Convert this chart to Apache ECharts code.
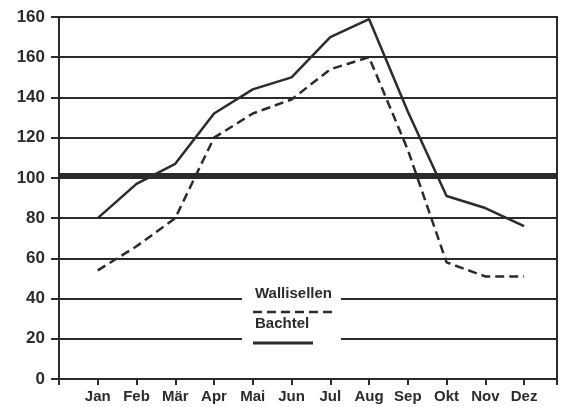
<!DOCTYPE html>
<html>
<head>
<meta charset="utf-8">
<script src="https://cdn.jsdelivr.net/npm/echarts@6/dist/echarts.min.js"></script>
<style>
  html, body { margin: 0; padding: 0; background: #fff; }
  #chart { width: 562px; height: 407px; }
</style>
</head>
<body>
<div id="chart"></div>
<script>
// month labels on the x axis (positions 1..12)
const months = ['Jan', 'Feb', 'Mär', 'Apr', 'Mai', 'Jun', 'Jul', 'Aug', 'Sep', 'Okt', 'Nov', 'Dez'];

// values
const bachtel = [80, 97, 107, 132, 144, 150, 170, 179, 133, 91, 85, 76];
const wallisellen = [54, 66, 80, 120, 132, 139, 154, 160, 114, 58, 51, 51];

// y tick labels as printed (top one reads 160 in the original)
const yTickValues = [0, 20, 40, 60, 80, 100, 120, 140, 160, 180];
const yTickLabels = ['0', '20', '40', '60', '80', '100', '120', '140', '160', '160'];

const refLevel = 101;

const ink = '#2b2b2b';
const font = '"Liberation Sans", Arial, sans-serif';

const toPoints = (arr) => arr.map((v, i) => [i + 1, v]);

const chart = echarts.init(document.getElementById('chart'));

const option = {
  animation: false,
  grid: {
    left: 59,
    right: 5,
    top: 17,
    bottom: 28,
    show: true,
    borderColor: ink,
    borderWidth: 2
  },
  xAxis: {
    type: 'value',
    min: 0,
    max: 12.85,
    interval: 1,
    axisLine: { show: true, lineStyle: { color: ink, width: 2 } },
    axisTick: { show: true, length: 6, lineStyle: { color: ink, width: 2 } },
    splitLine: { show: false },
    axisLabel: {
      margin: 10,
      color: ink,
      fontFamily: font,
      fontWeight: 'bold',
      fontSize: 15,
      formatter: (v) => (Number.isInteger(v) && v >= 1 && v <= 12) ? months[v - 1] : ''
    }
  },
  yAxis: {
    type: 'value',
    min: 0,
    max: 180,
    interval: 20,
    axisLine: { show: true, lineStyle: { color: ink, width: 2 } },
    axisTick: { show: true, length: 8, lineStyle: { color: ink, width: 2 } },
    splitLine: { show: true, lineStyle: { color: ink, width: 2 } },
    axisLabel: {
      margin: 14,
      color: ink,
      fontFamily: font,
      fontWeight: 'bold',
      fontSize: 17,
      formatter: (v) => {
        const idx = yTickValues.indexOf(v);
        return idx >= 0 ? yTickLabels[idx] : '';
      }
    }
  },
  series: [
    {
      name: 'Bachtel',
      type: 'line',
      data: toPoints(bachtel),
      symbol: 'none',
      lineStyle: { color: ink, width: 2.5 },
      z: 3,
      markLine: {
        silent: true,
        symbol: 'none',
        label: { show: false },
        lineStyle: { color: ink, width: 6, type: 'solid' },
        data: [{ yAxis: refLevel }]
      }
    },
    {
      name: 'Wallisellen',
      type: 'line',
      data: toPoints(wallisellen),
      symbol: 'none',
      lineStyle: { color: ink, width: 2.5, type: [9, 5] },
      z: 3
    }
  ],
  graphic: [
    // gap in the grid lines behind the legend
    { type: 'rect', shape: { x: 242, y: 284, width: 99, height: 66 }, style: { fill: '#fff' }, z: 10 },
    {
      type: 'text', left: 255, top: 286, z: 11,
      style: { text: 'Wallisellen', fill: ink, font: 'bold 15px ' + font }
    },
    {
      type: 'line', z: 11,
      shape: { x1: 253, y1: 312, x2: 334, y2: 312 },
      style: { stroke: ink, lineWidth: 2.5, lineDash: [9, 5] }
    },
    {
      type: 'text', left: 255, top: 316, z: 11,
      style: { text: 'Bachtel', fill: ink, font: 'bold 15px ' + font }
    },
    {
      type: 'line', z: 11,
      shape: { x1: 253, y1: 343, x2: 313, y2: 343 },
      style: { stroke: ink, lineWidth: 3 }
    }
  ]
};

chart.setOption(option);
</script>
</body>
</html>
